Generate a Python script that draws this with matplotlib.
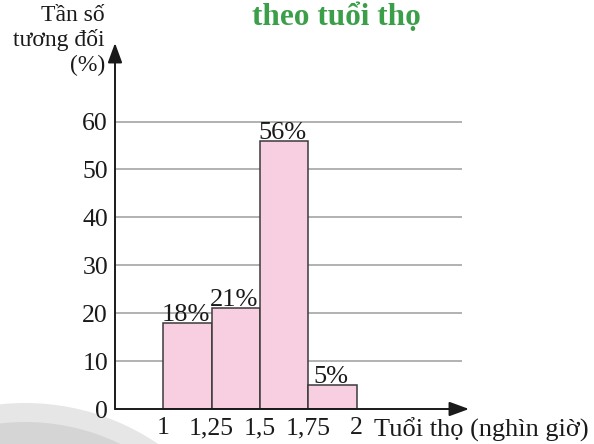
import matplotlib

matplotlib.use("Agg")
import matplotlib.pyplot as plt
from matplotlib.patches import Circle

plt.rcParams["font.family"] = ["Liberation Serif", "DejaVu Serif"]

# data
bin_edges = [1.0, 1.25, 1.5, 1.75, 2.0]
bin_labels = ["1", "1,25", "1,5", "1,75", "2"]
percent = [18, 21, 56, 5]
y_ticks = [0, 10, 20, 30, 40, 50, 60]

TITLE = "theo tuổi thọ"
Y_LABEL = "Tần số\ntương đối\n(%)"
X_LABEL = "Tuổi thọ (nghìn giờ)"

W, H = 594, 444
fig = plt.figure(figsize=(W / 100, H / 100), dpi=100)

# decorative grey arc in the lower left corner (pixel coordinates)
bg = fig.add_axes([0, 0, 1, 1], zorder=0)
bg.set_xlim(0, W)
bg.set_ylim(H, 0)
bg.axis("off")
bg.add_patch(Circle((25, 640), 237, color="#e6e6e6", lw=0))
bg.add_patch(Circle((25, 640), 218, color="#d5d5d5", lw=0))

# main axes, placed so that the axis origin sits at pixel (115, 409)
x0_px, y0_px, x_tip, y_tip = 115, 409, 469, 43
px_per_x = 193.2
px_per_y = 4.79
xmin = bin_edges[0] - 0.25
xmax = xmin + (x_tip - x0_px) / px_per_x
ymax = (y0_px - y_tip) / px_per_y
ax = fig.add_axes(
    [x0_px / W, (H - y0_px) / H, (x_tip - x0_px) / W, (y0_px - y_tip) / H],
    zorder=1,
)
ax.patch.set_alpha(0)
ax.set_xlim(xmin, xmax)
ax.set_ylim(0, ymax)
for s in ax.spines.values():
    s.set_visible(False)

grid_end = xmin + (462 - x0_px) / px_per_x
ax.hlines(y_ticks[1:], xmin, grid_end, color="#ababab", lw=1.3, zorder=1)

widths = [b - a for a, b in zip(bin_edges[:-1], bin_edges[1:])]
ax.bar(
    bin_edges[:-1],
    percent,
    width=widths,
    align="edge",
    color="#f8cfe1",
    edgecolor="#3a3a3a",
    lw=1.1,
    zorder=2,
)
for left, w, v in zip(bin_edges[:-1], widths, percent):
    ax.text(left + w / 2 - 0.01, v - 0.6, f"{v}%", ha="center", va="bottom",
            fontsize=19, color="#1a1a1a", zorder=3)

# axes with arrow heads
arrow = dict(arrowstyle="-|>,head_length=0.6,head_width=0.22",
             color="#1a1a1a", lw=1.4, mutation_scale=20,
             shrinkA=0, shrinkB=0)
ax.annotate("", xy=(xmax, 0), xytext=(xmin, 0), arrowprops=arrow,
            annotation_clip=False, zorder=4)
ax.annotate("", xy=(xmin, ymax), xytext=(xmin, 0), arrowprops=arrow,
            annotation_clip=False, zorder=4)

ax.set_yticks(y_ticks)
ax.set_yticklabels([str(t) for t in y_ticks])
ax.set_xticks(bin_edges)
ax.set_xticklabels(bin_labels)
ax.tick_params(axis="y", length=0, pad=5, labelsize=18.5, labelcolor="#1a1a1a")
ax.tick_params(axis="x", length=0, pad=6, labelsize=18.5, labelcolor="#1a1a1a")

fig.text(105 / W, 1 - 5 / H, Y_LABEL, ha="right", va="top", fontsize=17,
         linespacing=1.2, color="#1a1a1a")
fig.text(589 / W, 1 - 437 / H, X_LABEL, ha="right", va="baseline",
         fontsize=19, color="#1a1a1a")
fig.text(336 / W, 1 - 25 / H, TITLE, ha="center", va="baseline", fontsize=22.5,
         fontweight="bold", color="#3b9e49")

fig.savefig("out.png", dpi=100)
